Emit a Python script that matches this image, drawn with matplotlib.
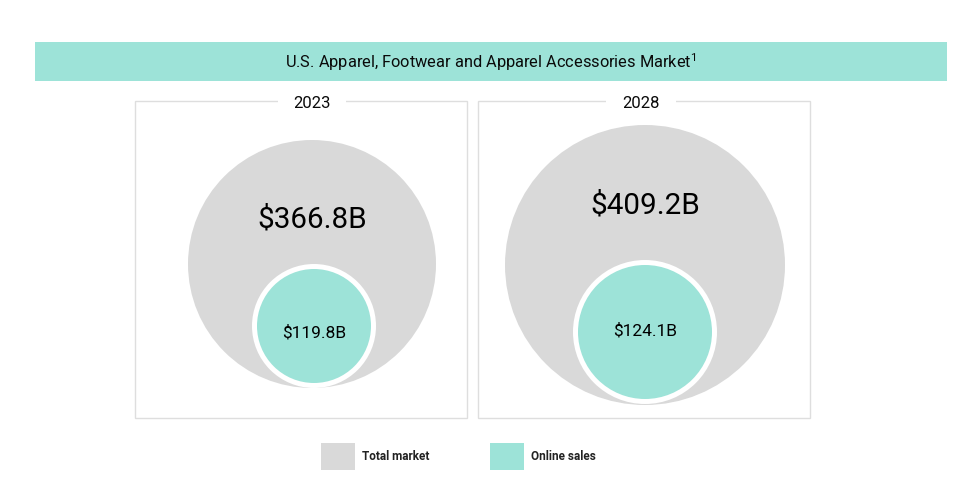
import matplotlib
matplotlib.use('Agg')
import matplotlib.pyplot as plt
from matplotlib.patches import Circle, Rectangle

plt.rcParams['font.family'] = ['Roboto', 'DejaVu Sans']
plt.rcParams['mathtext.fontset'] = 'custom'
plt.rcParams['mathtext.rm'] = 'Roboto'

# data
title = 'U.S. Apparel, Footwear and Apparel Accessories Market'
years = ['2023', '2028']
total_market = [366.8, 409.2]   # $B
online_sales = [119.8, 124.1]   # $B
legend_labels = ['Total market', 'Online sales']

# colours
teal = '#9de3d8'
grey = '#d9d9d9'
border = '#dedede'

# layout (pixel coords, y down)
box_x = [135, 478]
box_w, box_top, box_bot = 332, 101, 418
big_cx = [312, 645]
big_cy = [264, 265]
big_r = [124, 140]
small_cy = [326, 332]
small_r = [57, 67]
big_ty = [220, 206]
small_ty = [333, 331]
year_x = [312, 641]
year_gap = [34, 35]

fig = plt.figure(figsize=(9.8, 4.78), dpi=100)
ax = fig.add_axes([0, 0, 1, 1])
ax.set_xlim(0, 980)
ax.set_ylim(478, 0)
ax.set_aspect('equal')
ax.axis('off')

# title banner
ax.add_patch(Rectangle((35, 42), 912, 39, facecolor=teal, edgecolor='none'))
ax.text(491, 62, title + r'$^{\mathregular{1}}$', ha='center', va='center',
        fontsize=11.8, color='#0a0a0a')

for i, yr in enumerate(years):
    ax.add_patch(Rectangle((box_x[i], box_top), box_w, box_bot - box_top,
                           facecolor='none', edgecolor=border, lw=1.0))
    ax.add_patch(Rectangle((year_x[i] - year_gap[i], box_top - 3), 2 * year_gap[i], 6,
                           facecolor='white', edgecolor='none', zorder=2))
    ax.text(year_x[i], box_top + 2, yr, ha='center', va='center', fontsize=12,
            color='#0a0a0a', zorder=3)

    ax.add_patch(Circle((big_cx[i], big_cy[i]), big_r[i], facecolor=grey,
                        edgecolor='none', zorder=1))
    scx = big_cx[i] + (2 if i == 0 else 0)
    ax.add_patch(Circle((scx, small_cy[i]), small_r[i] + 5, facecolor='white',
                        edgecolor='none', zorder=2))
    ax.add_patch(Circle((scx, small_cy[i]), small_r[i], facecolor=teal,
                        edgecolor='none', zorder=3))

    ax.text(big_cx[i], big_ty[i], f'${total_market[i]:.1f}B', ha='center', va='center',
            fontsize=21.3, color='black', zorder=4)
    ax.text(scx, small_ty[i], f'${online_sales[i]:.1f}B', ha='center', va='center',
            fontsize=12.5, color='black', zorder=4)

# legend
leg_x = [321, 490]
for lx, lab, col in zip(leg_x, legend_labels, [grey, teal]):
    ax.add_patch(Rectangle((lx, 443), 34, 27, facecolor=col, edgecolor='none'))
    ax.text(lx + 41, 456.5, lab, ha='left', va='center', fontsize=8.5,
            fontweight='bold', color='#222222')

fig.savefig('out.png', dpi=100)
